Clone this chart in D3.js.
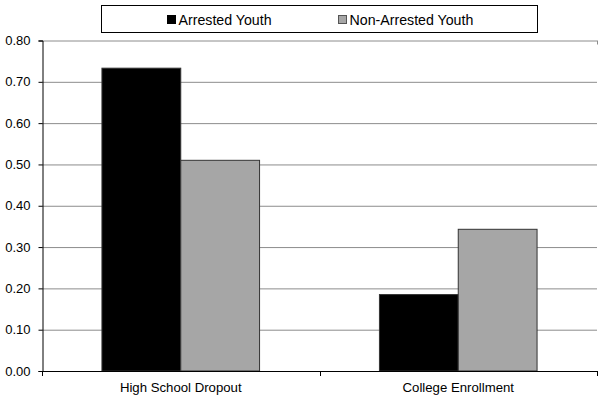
<!DOCTYPE html>
<html><head><meta charset="utf-8">
<script src="https://cdn.jsdelivr.net/npm/d3@7"></script>
<style>body{margin:0;background:#fff}svg{display:block}text{font-family:"Liberation Sans",Arial,sans-serif}</style>
</head><body><svg id="c" width="603" height="400"></svg>
<script>
const categories = ["High School Dropout", "College Enrollment"];
const series = ["Arrested Youth", "Non-Arrested Youth"];
const arrested = [0.733, 0.185];
const nonArrested = [0.51, 0.343];
const yTicks = [0, 0.1, 0.2, 0.3, 0.4, 0.5, 0.6, 0.7, 0.8];
const colors = ["#000000", "#a6a6a6"];

const svg = d3.select("#c");
const L = 42, R = 597, T = 40.5, B = 371;
const y = d3.scaleLinear().domain([0, 0.8]).range([B, T]);
const x0 = d3.scaleBand().domain(categories).range([L, R]).padding(0);
const bw = x0.bandwidth();
const x1 = d3.scaleBand().domain(series).range([bw * 0.216, bw * 0.784]).padding(0);
const values = [arrested, nonArrested];

// gridlines
svg.append("g").selectAll("line").data(yTicks.filter(d => d > 0)).join("line")
  .attr("x1", L).attr("x2", R).attr("y1", d => y(d) + 0.5).attr("y2", d => y(d) + 0.5)
  .attr("stroke", "#8c8c8c").attr("stroke-width", 1);

// bars
const groups = svg.append("g").selectAll("g").data(categories).join("g")
  .attr("transform", c => `translate(${x0(c)},0)`);
groups.selectAll("rect").data((c, i) => series.map((s, j) => ({ s, j, v: values[j][i] }))).join("rect")
  .attr("x", d => x1(d.s)).attr("width", x1.bandwidth())
  .attr("y", d => y(d.v)).attr("height", d => y(0) - y(d.v))
  .attr("fill", d => colors[d.j]).attr("stroke", "#333").attr("stroke-width", 1);

// y axis
const ya = svg.append("g").attr("transform", `translate(${L + 0.5},0)`)
  .call(d3.axisLeft(y).tickValues(yTicks).tickFormat(d3.format(".2f")).tickSize(4).tickPadding(8));
ya.select(".domain").attr("stroke", "#000");
ya.selectAll(".tick line").attr("stroke", "#000");
ya.selectAll("text").attr("font-size", 13).attr("fill", "#000")
  .attr("font-family", '"Liberation Sans",Arial,sans-serif');

// x axis
const xa = svg.append("g").attr("transform", `translate(0,${B + 0.5})`)
  .call(d3.axisBottom(x0).tickSize(0).tickPadding(10));
xa.select(".domain").remove();
xa.append("line").attr("x1", L).attr("x2", R).attr("stroke", "#000");
xa.selectAll(".tick text").attr("font-size", 13.2).attr("fill", "#000")
  .attr("font-family", '"Liberation Sans",Arial,sans-serif').attr("dy", "0.8em");
svg.append("g").selectAll("line").data([...categories.map(c => x0(c)), R]).join("line")
  .attr("x1", d => Math.round(d) + 0.5).attr("x2", d => Math.round(d) + 0.5)
  .attr("y1", B).attr("y2", B + 5).attr("stroke", "#000");

// right border tick at top-right
svg.append("line").attr("x1", R + 0.5).attr("x2", R + 0.5).attr("y1", T).attr("y2", T + 4).attr("stroke", "#8c8c8c");

// legend
const lg = svg.append("g");
lg.append("rect").attr("x", 101.5).attr("y", 5.5).attr("width", 436).attr("height", 27)
  .attr("fill", "#fff").attr("stroke", "#000");
const legX = [167, 338];
series.forEach((s, j) => {
  lg.append("rect").attr("x", legX[j] + 0.5).attr("y", 15.5).attr("width", 8).attr("height", 8)
    .attr("fill", colors[j]).attr("stroke", j ? "#555" : "#000");
  lg.append("text").attr("x", legX[j] + 11.5).attr("y", 25).attr("font-size", 14.2).attr("fill", "#000").text(s);
});
</script></body></html>
